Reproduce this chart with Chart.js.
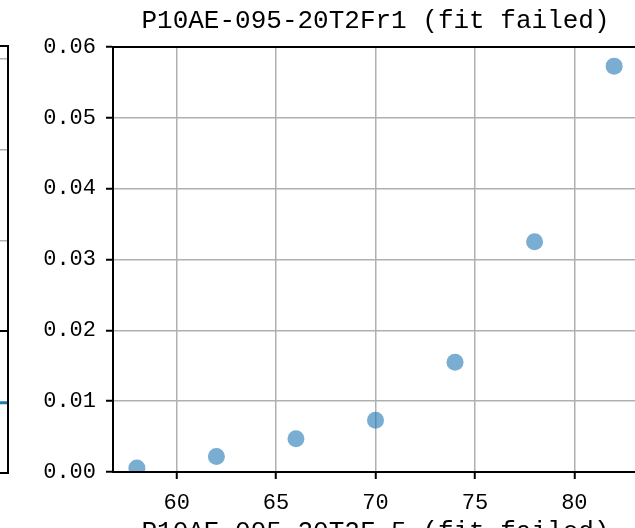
<!DOCTYPE html>
<html>
<head>
<meta charset="utf-8">
<script src="https://cdn.jsdelivr.net/npm/chart.js@4"></script>
<style>
    body{ margin:0; width:635px; height:528px; overflow:hidden; background:#fff; position:relative }
    #esq{ position:absolute; left:-420px; top:0 }
    #principal{ position:absolute; left:0; top:0 }
</style>
</head>
<body>
<canvas id="esq" width="430" height="560"></canvas>
<canvas id="principal" width="751" height="560"></canvas>
<script>
//*************  Dados  ****************/
// grafico principal (pontos)
const temperaturas = [58, 62, 66, 70, 74, 78, 82]
const valores = [0.00057, 0.0022, 0.0047, 0.0073, 0.0155, 0.0325, 0.0573]
const titulo = "P10AE-095-20T2Fr1 (fit failed)"
const titulo_baixo = "P10AE-095-20T2F-5 (fit failed)" // titulo do grafico de baixo (cortado)

// pedaco do grafico da esquerda (so se ve a borda)
const esq_x = [0, 10]
const esq_linha = [-0.79, -0.79]
const esq_zero = [0, 0]
const esq_ticks = [0, 1, 2, 3]

Chart.defaults.color = "#000"
Chart.defaults.font.family = "'Liberation Mono', 'DejaVu Sans Mono', monospace"
Chart.defaults.animation = false

// moldura preta a volta da area (como no matplotlib)
const moldura = {
    id: "moldura",
    afterDraw(chart){
        let a = chart.chartArea
        let ctx = chart.ctx
        ctx.save()
        ctx.strokeStyle = "#000"
        ctx.lineWidth = 2
        ctx.strokeRect(a.left, a.top, a.right - a.left, a.bottom - a.top)
        ctx.restore()
    }
}

//*********** Grafico da esquerda (cortado) **********/
new Chart(document.querySelector("#esq"), {
    type: "line",
    data: {
        datasets: [
            { data: esq_x.map((x, i) => ({x: x, y: esq_zero[i]})), borderColor: "#000", borderWidth: 2, pointRadius: 0 },
            { data: esq_x.map((x, i) => ({x: x, y: esq_linha[i]})), borderColor: "#1f77b4", borderWidth: 3, pointRadius: 0 }
        ]
    },
    options: {
        responsive: false,
        layout: { padding: { top: 46, bottom: 87, right: 2, left: 0 } },
        plugins: { legend: { display: false }, tooltip: { enabled: false } },
        scales: {
            x: {
                type: "linear", min: 0, max: 10,
                ticks: { display: false },
                grid: { display: false },
                border: { color: "#000", width: 2 },
                afterFit: s => { s.height = 0 }
            },
            y: {
                min: -1.566, max: 3.143,
                ticks: { display: false },
                grid: { color: "#b0b0b0", lineWidth: 1.5, drawTicks: false },
                border: { color: "#000", width: 2 },
                afterBuildTicks: s => { s.ticks = esq_ticks.map(v => ({value: v})) },
                afterFit: s => { s.width = 0 }
            }
        }
    },
    plugins: [moldura]
})

//*********** Grafico principal **********/
// canvas mais largo que a janela; eixo vazio a direita para o titulo ficar centrado na area
new Chart(document.querySelector("#principal"), {
    type: "scatter",
    data: {
        datasets: [{
            data: temperaturas.map((t, i) => ({x: t, y: valores[i]})),
            backgroundColor: "rgba(31,119,180,0.6)",
            borderWidth: 0,
            pointRadius: 8.5,
            pointHoverRadius: 8.5
        }]
    },
    options: {
        responsive: false,
        layout: { padding: 0 },
        plugins: {
            legend: { display: false },
            tooltip: { enabled: false },
            title: {
                display: true, text: titulo,
                font: { size: 26, weight: "normal" },
                padding: { top: 6, bottom: 9.8 }
            },
            subtitle: {
                display: true, text: titulo_baixo, position: "bottom",
                font: { size: 26, weight: "normal" }, color: "#000",
                padding: { top: 0, bottom: 11.8 }
            }
        },
        scales: {
            x: {
                type: "linear", min: 56.8, max: 83.2,
                ticks: { stepSize: 5, includeBounds: false, font: { size: 22 }, padding: 11 },
                grid: { color: "#b0b0b0", lineWidth: 1.5, tickColor: "#000", tickWidth: 2, tickLength: 7 },
                border: { color: "#000", width: 2 },
                afterFit: s => { s.height = 45 }
            },
            y: {
                min: 0, max: 0.06,
                ticks: { stepSize: 0.01, font: { size: 22 }, padding: 10, callback: v => v.toFixed(2) },
                grid: { color: "#b0b0b0", lineWidth: 1.5, tickColor: "#000", tickWidth: 2, tickLength: 7 },
                border: { color: "#000", width: 2 },
                afterFit: s => { s.width = 113 }
            },
            direita: {
                type: "linear", position: "right", min: 0, max: 0.06,
                ticks: { display: false },
                grid: { display: false },
                border: { display: false },
                afterFit: s => { s.width = 113 }
            }
        }
    },
    plugins: [moldura]
})
</script>
</body>
</html>
